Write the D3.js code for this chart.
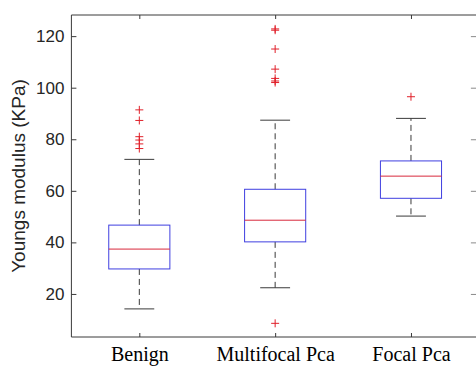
<!DOCTYPE html>
<html>
<head>
<meta charset="utf-8">
<script src="https://cdn.jsdelivr.net/npm/d3@7"></script>
<style>
  html, body { margin: 0; padding: 0; background: #fff; overflow: hidden; }
  svg { display: block; }
</style>
</head>
<body>
<svg id="chart" width="476" height="367"></svg>
<script>
// Box statistics per group (KPa)
const categories = ["Benign", "Multifocal Pca", "Focal Pca"];
const q1 = [29.7, 40.2, 57.1];
const median = [37.4, 48.6, 65.7];
const q3 = [46.7, 60.6, 71.6];
const whiskerLow = [14.2, 22.4, 50.2];
const whiskerHigh = [72.2, 87.4, 88.1];
const outliers = [
  [91.4, 87.3, 81.0, 79.7, 78.2, 76.4],
  [122.8, 122.3, 115.0, 107.2, 103.6, 102.6, 102.0, 8.6],
  [96.5]
];
const yTicks = [20, 40, 60, 80, 100, 120];

const svg = d3.select("#chart");
const x = d3.scaleLinear().domain([0.5, 3.5]).range([71.4, 478.9]);
const y = d3.scaleLinear().domain([3.3, 128.2]).range([337, 15]);

const axisColor = "#3a3a3a";
const boxHalf = 0.225;   // half box width in category units
const capHalf = 0.11;    // half whisker-cap width

// Frame: left, bottom, top (the right edge falls past the canvas)
const [x0, x1] = x.range();
const [yb, yt] = y.range();
const frame = svg.append("g").attr("stroke", axisColor).attr("stroke-width", 1);
frame.append("line").attr("x1", x0).attr("x2", x0).attr("y1", yt).attr("y2", yb);
frame.append("line").attr("x1", x0).attr("x2", x1).attr("y1", yb).attr("y2", yb);
frame.append("line").attr("x1", x0).attr("x2", x1).attr("y1", yt).attr("y2", yt);

// Left axis with inward ticks
const yAxis = d3.axisLeft(y).tickValues(yTicks).tickSizeInner(-5).tickSizeOuter(0).tickPadding(7);
const gy = svg.append("g").attr("transform", `translate(${x0},0)`).call(yAxis);
gy.select(".domain").remove();
gy.selectAll("line").attr("stroke", axisColor);
gy.selectAll("text")
  .attr("font-family", "'Liberation Sans', Arial, sans-serif")
  .attr("font-size", 17).attr("fill", "#262626");

// Right axis ticks (inward)
const gyr = svg.append("g").attr("transform", `translate(${x1},0)`)
  .call(d3.axisRight(y).tickValues(yTicks).tickSizeInner(-8).tickSizeOuter(0).tickFormat(""));
gyr.select(".domain").remove();
gyr.selectAll("line").attr("stroke", "#8a8a8a");

// Bottom axis with category labels
const xAxis = d3.axisBottom(x).tickValues([1, 2, 3]).tickFormat((d, i) => categories[i])
  .tickSizeInner(-4).tickSizeOuter(0).tickPadding(10);
const gx = svg.append("g").attr("transform", `translate(0,${yb})`).call(xAxis);
gx.select(".domain").remove();
gx.selectAll("line").attr("stroke", axisColor);
gx.selectAll("text")
  .attr("font-family", "'Liberation Serif', 'Times New Roman', serif")
  .attr("font-size", 20).attr("fill", "#000");

// Top axis ticks
const gxt = svg.append("g").attr("transform", `translate(0,${yt})`)
  .call(d3.axisTop(x).tickValues([1, 2, 3]).tickSizeInner(-4).tickSizeOuter(0).tickFormat(""));
gxt.select(".domain").remove();
gxt.selectAll("line").attr("stroke", axisColor);

// Y axis title
svg.append("text")
  .attr("transform", `translate(25,${(yt + yb) / 2}) rotate(-90)`)
  .attr("text-anchor", "middle")
  .attr("font-family", "'Liberation Sans', Arial, sans-serif")
  .attr("font-size", 19).attr("fill", "#262626")
  .text("Youngs modulus (KPa)");

// Boxes
const groups = svg.append("g").selectAll("g").data(categories).join("g");
groups.each(function (c, i) {
  const g = d3.select(this);
  const cx = i + 1;
  // dashed whiskers
  g.append("line")
    .attr("x1", x(cx)).attr("x2", x(cx)).attr("y1", y(q3[i])).attr("y2", y(whiskerHigh[i]))
    .attr("stroke", "#3a3a3a").attr("stroke-width", 1).attr("stroke-dasharray", "6,4");
  g.append("line")
    .attr("x1", x(cx)).attr("x2", x(cx)).attr("y1", y(q1[i])).attr("y2", y(whiskerLow[i]))
    .attr("stroke", "#3a3a3a").attr("stroke-width", 1).attr("stroke-dasharray", "6,4");
  // caps
  [whiskerLow[i], whiskerHigh[i]].forEach(v => {
    g.append("line")
      .attr("x1", x(cx - capHalf)).attr("x2", x(cx + capHalf)).attr("y1", y(v)).attr("y2", y(v))
      .attr("stroke", "#3a3a3a").attr("stroke-width", 1);
  });
  // box
  g.append("rect")
    .attr("x", x(cx - boxHalf)).attr("width", x(cx + boxHalf) - x(cx - boxHalf))
    .attr("y", y(q3[i])).attr("height", y(q1[i]) - y(q3[i]))
    .attr("fill", "none").attr("stroke", "#3f3fe0").attr("stroke-width", 1);
  // median
  g.append("line")
    .attr("x1", x(cx - boxHalf)).attr("x2", x(cx + boxHalf)).attr("y1", y(median[i])).attr("y2", y(median[i]))
    .attr("stroke", "#d8283c").attr("stroke-width", 1);
  // outliers
  outliers[i].forEach(v => {
    const px = x(cx), py = y(v);
    g.append("path")
      .attr("d", `M${px - 4},${py}H${px + 4}M${px},${py - 4}V${py + 4}`)
      .attr("stroke", "#e0202a").attr("stroke-width", 1).attr("fill", "none");
  });
});
</script>
</body>
</html>
